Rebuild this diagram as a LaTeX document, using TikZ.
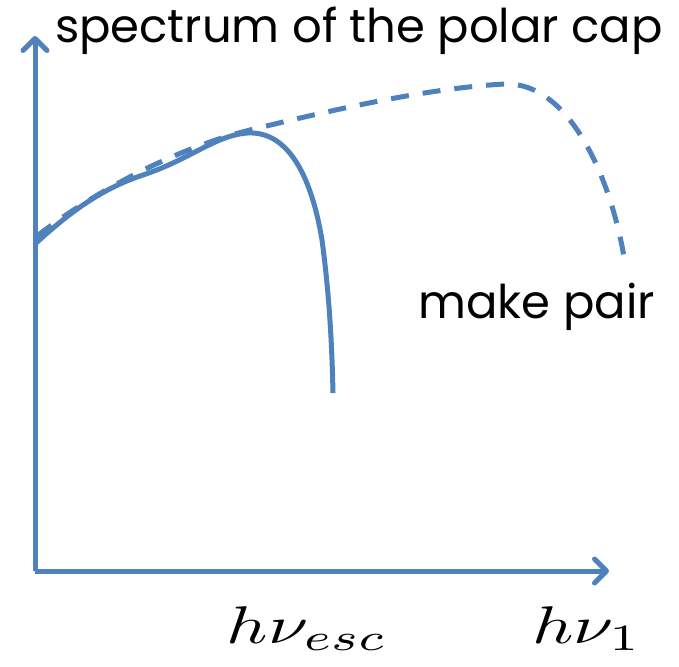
\documentclass[tikz,border=0pt]{standalone}
\usepackage{amsmath}
\usepackage{fontspec}
\setmainfont{Poppins}
\usepackage{tikz}
\usetikzlibrary{arrows.meta,positioning}
\definecolor{specblue}{RGB}{79,129,189}

\begin{document}
\begin{tikzpicture}[x=1pt,y=-1pt,
    axis/.style={line width=5pt,specblue,-{Straight Barb[length=12pt,width=24pt,line cap=round,line join=round]}},
    spec/.style={line width=5pt,specblue},
    lbl/.style={inner sep=0pt,font=\fontsize{46.5}{50}\selectfont},
    mlbl/.style={inner sep=0pt,anchor=base,xscale=7.2,yscale=5.3}]
  \useasboundingbox (0,0) rectangle (679,666);
  % axes
  \coordinate (O) at (35,571);
  \coordinate (ytip) at (35,36);
  \coordinate (xtip) at (609,571);
  \draw[axis] (O) -- (ytip);
  \draw[axis] (O) -- (xtip);
  % escaping part of the spectrum
  \draw[spec] (35,244) .. controls (70,212) and (100,190) .. (140,176)
    .. controls (190,160) and (215,135) .. (248,133)
    .. controls (290,131) and (312,180) .. (322,240)
    .. controls (330,300) and (332,350) .. (333,393);
  % full spectrum, cut off by pair making
  \draw[spec,dash pattern=on 18pt off 14pt] (37,236) .. controls (90,195) and (170,150) .. (250,130)
    .. controls (340,108) and (430,88) .. (505,84)
    .. controls (570,82) and (612,180) .. (625,263);
  % labels
  \node[lbl,anchor=base west] (title) at (55,43) {spectrum of the polar cap};
  \node[lbl,anchor=base east] (pair) at (655,318) {make pair};
  \node[mlbl] (esc) at (307,643) {$h\nu_{esc}$};
  \node[mlbl] (one) at (587,643) {$h\nu_1$};
\end{tikzpicture}
\end{document}
